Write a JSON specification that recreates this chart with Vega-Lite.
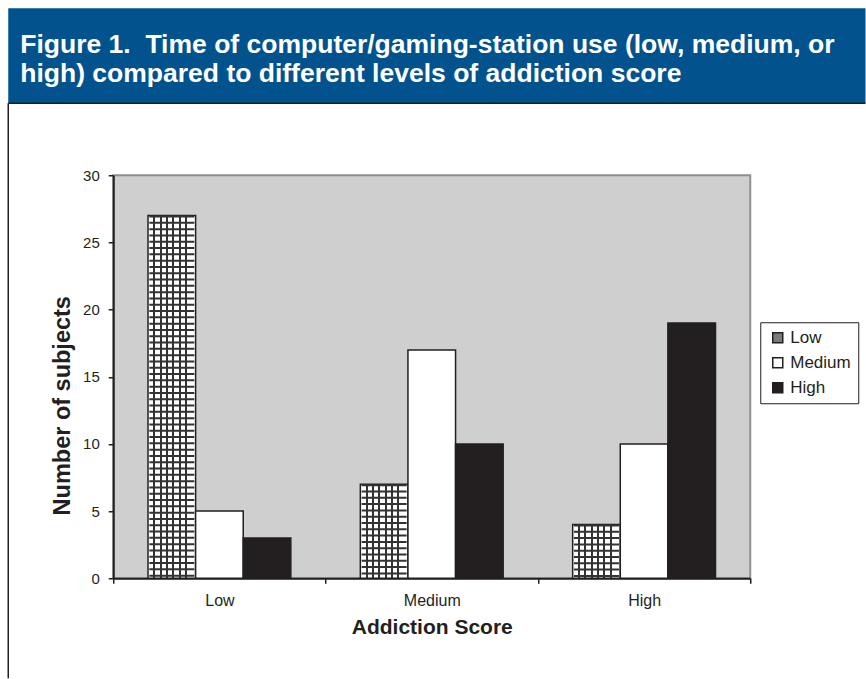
{
  "$schema": "https://vega.github.io/schema/vega-lite/v6.json",
  "padding": {"left": 7.25, "top": 7.25, "right": 0, "bottom": 0},
  "background": "white",
  "bounds": "flush",
  "spacing": 0,
  "config": {"font": "Liberation Sans"},
  "datasets": {
    "counts": [
      {"score": "Low", "use": "Low", "count": 27},
      {"score": "Low", "use": "Medium", "count": 5},
      {"score": "Low", "use": "High", "count": 3},
      {"score": "Medium", "use": "Low", "count": 7},
      {"score": "Medium", "use": "Medium", "count": 17},
      {"score": "Medium", "use": "High", "count": 10},
      {"score": "High", "use": "Low", "count": 4},
      {"score": "High", "use": "Medium", "count": 10},
      {"score": "High", "use": "High", "count": 19}
    ]
  },
  "vconcat": [
    {
      "width": 857.25,
      "height": 95,
      "view": {"fill": "#02538d", "stroke": "#231f20", "strokeWidth": 1.5, "strokeDash": [0, 952.25, 857.25, 100]},
      "title": {
        "text": ["Figure 1.\u00a0 Time of computer/gaming-station use (low, medium, or", "high) compared to different levels of addiction score"],
        "anchor": "start",
        "frame": "group",
        "offset": -79,
        "dx": 12,
        "fontSize": 26.5,
        "fontWeight": "bold",
        "color": "white",
        "lineHeight": 29,
        "font": "Liberation Sans"
      },
      "data": {"values": []},
      "mark": "rect",
      "encoding": {}
    },
    {
      "bounds": "flush",
      "spacing": 0,
      "hconcat": [
        {
          "width": 105,
          "height": 575,
          "view": {"fill": null, "stroke": "#231f20", "strokeWidth": 1.5, "strokeDash": [0, 785, 575, 10]},
          "data": {"values": []},
          "mark": "rect",
          "encoding": {}
        },
        {
          "bounds": "flush",
          "spacing": 0,
          "vconcat": [
            {
              "width": 637,
              "height": 72,
              "view": {"stroke": null, "fill": null},
              "data": {"values": []},
              "mark": "rect",
              "encoding": {}
            },
            {
              "width": 637,
              "height": 403,
              "view": {"fill": "#cfcfcf", "stroke": "#8f8f8f", "strokeWidth": 2},
              "data": {"name": "counts"},
              "encoding": {
                "x": {
                  "field": "score",
                  "type": "nominal",
                  "sort": ["Low", "Medium", "High"],
                  "scale": {"paddingInner": 0, "paddingOuter": 0},
                  "axis": {
                    "title": "Addiction Score",
                    "labelAngle": 0,
                    "labelFontSize": 16,
                    "labelColor": "#231f20",
                    "labelPadding": 9,
                    "tickBand": "extent",
                    "tickSize": 5,
                    "tickWidth": 1.5,
                    "tickColor": "#231f20",
                    "domainColor": "#231f20",
                    "domainWidth": 2,
                    "titleFontSize": 21,
                    "titleFontWeight": "bold",
                    "titleColor": "#231f20",
                    "titlePadding": 8
                  }
                },
                "xOffset": {
                  "field": "use",
                  "type": "nominal",
                  "sort": ["Low", "Medium", "High"],
                  "scale": {"paddingInner": 0, "paddingOuter": 0.73}
                },
                "y": {
                  "field": "count",
                  "type": "quantitative",
                  "scale": {"domain": [0, 30], "nice": false},
                  "axis": {
                    "title": "Number of subjects",
                    "values": [0, 5, 10, 15, 20, 25, 30],
                    "grid": false,
                    "labelFontSize": 15,
                    "labelColor": "#231f20",
                    "labelPadding": 9,
                    "tickSize": 5,
                    "tickWidth": 1.5,
                    "tickColor": "#231f20",
                    "domainColor": "#231f20",
                    "domainWidth": 2,
                    "titleFontSize": 23.5,
                    "titleFontWeight": "bold",
                    "titleColor": "#231f20",
                    "titlePadding": 8,
                    "titleY": 230
                  }
                }
              },
              "layer": [
                {
                  "mark": {"type": "bar", "stroke": "#231f20", "strokeWidth": 1.5},
                  "encoding": {
                    "fill": {
                      "condition": {
                        "test": "datum.use === 'Low'",
                        "value": {
                          "gradient": "linear",
                          "x1": 0, "y1": 0, "x2": 1, "y2": 0,
                          "stops": [
                            {"offset": 0, "color": "#ffffff"},
                            {"offset": 0.113, "color": "#ffffff"},
                            {"offset": 0.113, "color": "#333333"},
                            {"offset": 0.153, "color": "#333333"},
                            {"offset": 0.153, "color": "#ffffff"},
                            {"offset": 0.247, "color": "#ffffff"},
                            {"offset": 0.247, "color": "#333333"},
                            {"offset": 0.287, "color": "#333333"},
                            {"offset": 0.287, "color": "#ffffff"},
                            {"offset": 0.38, "color": "#ffffff"},
                            {"offset": 0.38, "color": "#333333"},
                            {"offset": 0.42, "color": "#333333"},
                            {"offset": 0.42, "color": "#ffffff"},
                            {"offset": 0.513, "color": "#ffffff"},
                            {"offset": 0.513, "color": "#333333"},
                            {"offset": 0.553, "color": "#333333"},
                            {"offset": 0.553, "color": "#ffffff"},
                            {"offset": 0.647, "color": "#ffffff"},
                            {"offset": 0.647, "color": "#333333"},
                            {"offset": 0.687, "color": "#333333"},
                            {"offset": 0.687, "color": "#ffffff"},
                            {"offset": 0.78, "color": "#ffffff"},
                            {"offset": 0.78, "color": "#333333"},
                            {"offset": 0.82, "color": "#333333"},
                            {"offset": 0.82, "color": "#ffffff"},
                            {"offset": 1, "color": "#ffffff"}
                          ]
                        }
                      },
                      "field": "use",
                      "type": "nominal",
                      "sort": ["Low", "Medium", "High"],
                      "scale": {"domain": ["Low", "Medium", "High"], "range": ["#7a7a7a", "#ffffff", "#231f20"]},
                      "legend": {
                        "title": null,
                        "orient": "none",
                        "legendX": 752,
                        "legendY": 314,
                        "direction": "vertical",
                        "strokeColor": "#231f20",
                        "fillColor": "#ffffff",
                        "padding": 7,
                        "symbolType": "square",
                        "symbolSize": 100,
                        "symbolOffset": 2,
                        "symbolStrokeColor": "#231f20",
                        "symbolStrokeWidth": 1.5,
                        "labelFontSize": 17,
                        "labelColor": "#231f20",
                        "labelOffset": 4,
                        "rowPadding": 7
                      }
                    }
                  }
                },
                {
                  "transform": [{"filter": "datum.use === 'Low'"}],
                  "mark": {"type": "rule", "strokeWidth": 45, "strokeDash": [2, 4.3], "color": "#333333", "strokeCap": "butt"},
                  "encoding": {"y2": {"datum": 0}}
                }
              ]
            }
          ]
        }
      ]
    }
  ]
}
